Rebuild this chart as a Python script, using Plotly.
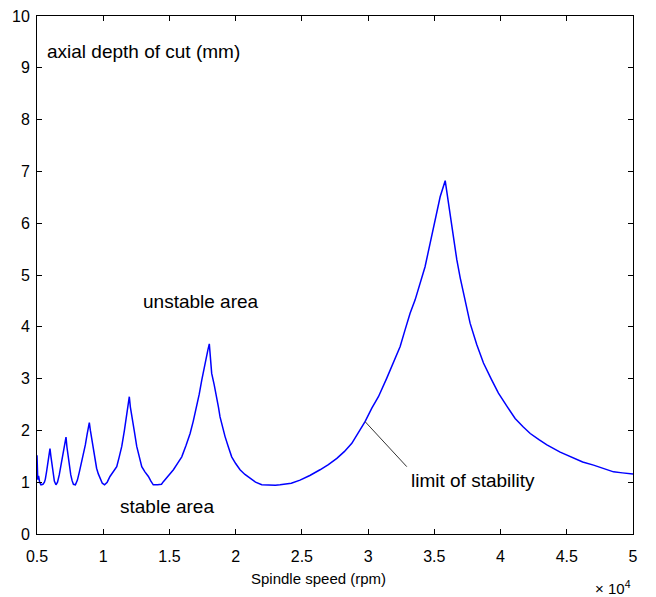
import plotly.graph_objects as go

# spindle speed (x 10^4 rpm) and limiting axial depth of cut (mm)
speed = [0.500, 0.503, 0.506, 0.512, 0.520, 0.530, 0.545,
         0.556, 0.563, 0.572, 0.581, 0.590, 0.598, 0.605, 0.613, 0.622, 0.631, 0.643,
         0.655, 0.668, 0.680, 0.692, 0.703, 0.711, 0.719, 0.726, 0.735, 0.745, 0.755, 0.765,
         0.775, 0.790,
         0.805, 0.820, 0.835, 0.850, 0.865, 0.878, 0.888, 0.895, 0.903, 0.913, 0.925, 0.938,
         0.950, 0.963, 0.978, 0.993, 1.010,
         1.030, 1.051, 1.075, 1.102, 1.120, 1.140, 1.160, 1.177, 1.190, 1.197, 1.205, 1.215,
         1.235, 1.253, 1.272, 1.291, 1.315, 1.341, 1.360, 1.378, 1.410, 1.440,
         1.454, 1.490, 1.530, 1.560, 1.593, 1.625, 1.656, 1.680, 1.706, 1.725, 1.744, 1.760,
         1.775, 1.790, 1.801,
         1.810, 1.819, 1.838, 1.857, 1.870, 1.882, 1.900, 1.920, 1.945, 1.970, 2.000, 2.033,
         2.070, 2.109, 2.150, 2.197, 2.250, 2.300, 2.335, 2.380, 2.420, 2.486,
         2.560, 2.637, 2.700, 2.764, 2.820, 2.877, 2.930, 2.977, 3.028, 3.078, 3.141, 3.191,
         3.242, 3.279, 3.317, 3.355, 3.393, 3.430, 3.468, 3.506, 3.544, 3.582,
         3.600, 3.625, 3.650, 3.670, 3.695, 3.720, 3.745, 3.770, 3.820, 3.871, 3.930, 3.984,
         4.050, 4.110, 4.170, 4.224, 4.290, 4.350, 4.450, 4.551, 4.620, 4.702, 4.780, 4.853,
         4.920, 5.000]
depth = [1.52, 1.25, 1.05, 1.12, 1.00, 0.95, 0.96,
         1.00, 1.06, 1.20, 1.36, 1.52, 1.65, 1.50, 1.36, 1.18, 1.02, 0.95,
         1.00, 1.14, 1.30, 1.46, 1.62, 1.75, 1.87, 1.68, 1.48, 1.30, 1.14, 1.03,
         0.96, 0.95,
         1.04, 1.20, 1.36, 1.52, 1.72, 1.92, 2.08, 2.15, 2.00, 1.85, 1.62, 1.42,
         1.27, 1.16, 1.05, 0.98, 0.95,
         1.00, 1.11, 1.20, 1.30, 1.48, 1.69, 2.00, 2.33, 2.52, 2.65, 2.45, 2.26,
         1.98, 1.69, 1.48, 1.30, 1.20, 1.11, 1.02, 0.95, 0.95, 0.96,
         1.01, 1.12, 1.24, 1.36, 1.49, 1.71, 1.94, 2.18, 2.46, 2.70, 2.97, 3.20,
         3.38, 3.55, 3.67,
         3.40, 3.10, 2.88, 2.65, 2.45, 2.26, 2.07, 1.88, 1.68, 1.49, 1.36, 1.24,
         1.15, 1.07, 1.00, 0.95, 0.94, 0.94, 0.95, 0.96, 0.98, 1.04,
         1.13, 1.24, 1.34, 1.46, 1.59, 1.75, 1.97, 2.17, 2.43, 2.65, 3.01, 3.30,
         3.62, 3.94, 4.26, 4.52, 4.84, 5.16, 5.61, 6.06, 6.51, 6.82,
         6.50, 6.06, 5.65, 5.29, 4.95, 4.65, 4.35, 4.07, 3.66, 3.30, 2.99, 2.72,
         2.46, 2.23, 2.07, 1.94, 1.82, 1.72, 1.58, 1.46, 1.39, 1.33, 1.26, 1.20,
         1.18, 1.16]

x_ticks = [0.5, 1, 1.5, 2, 2.5, 3, 3.5, 4, 4.5, 5]
y_ticks = list(range(0, 11))

fig = go.Figure()
fig.add_trace(go.Scatter(x=speed, y=depth, mode="lines",
                         line=dict(color="#0000FF", width=1.5), showlegend=False))

axis_style = dict(showline=True, linecolor="black", linewidth=1, mirror="ticks",
                  ticks="inside", ticklen=5, tickcolor="black", showgrid=False,
                  zeroline=False, ticklabeloverflow="allow", automargin=False,
                  tickfont=dict(family="Liberation Sans", size=16, color="black"))
fig.update_xaxes(range=[0.5, 5], tickvals=x_ticks, ticklabelstandoff=8, **axis_style)
fig.update_yaxes(range=[0, 10], tickvals=y_ticks, ticklabelstandoff=3, **axis_style)

txt = dict(family="Liberation Sans", size=19, color="black")
fig.add_annotation(x=0.56, y=9.31, text="axial depth of cut (mm)", showarrow=False,
                   xanchor="left", yanchor="middle", font=txt)
fig.add_annotation(x=1.283, y=4.48, text="unstable area", showarrow=False,
                   xanchor="left", yanchor="middle", font=txt)
fig.add_annotation(x=1.112, y=0.53, text="stable area", showarrow=False,
                   xanchor="left", yanchor="middle", font=txt)
fig.add_annotation(x=3.31, y=1.04, text="limit of stability", showarrow=False,
                   xanchor="left", yanchor="middle", font=txt)
# pointer line from label to curve
fig.add_shape(type="line", x0=3.292, y0=1.30, x1=2.977, y1=2.17,
              line=dict(color="#333333", width=1))

fig.add_annotation(x=0.473, y=-0.085, xref="paper", yref="paper", text="Spindle speed (rpm)",
                   showarrow=False, xanchor="center", yanchor="middle",
                   font=dict(family="Liberation Sans", size=15, color="black"))
fig.add_annotation(x=1.0, y=-0.104, xref="paper", yref="paper", text="× 10<sup>4</sup>",
                   showarrow=False, xanchor="right", yanchor="middle",
                   font=dict(family="Liberation Sans", size=15, color="black"))

# page body adds 8px around the figure, so the figure is 8px smaller
fig.update_layout(width=648, height=589, margin=dict(l=29, r=23, t=8, b=63),
                  plot_bgcolor="white", paper_bgcolor="white")
fig.write_html("out.html")
